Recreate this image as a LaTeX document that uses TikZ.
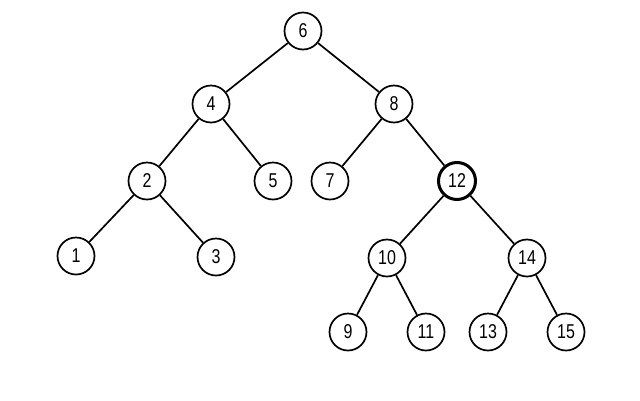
\documentclass[tikz,border=0pt]{standalone}
\usepackage{fontspec}
\setmainfont{Liberation Sans}[FakeStretch=0.8]
\begin{document}
\begin{tikzpicture}[x=1pt,y=-1pt,
  nd/.style={circle,draw,line width=1.7pt,minimum size=37pt,inner sep=0pt,font=\fontsize{20}{24}\selectfont},
  hl/.style={nd,line width=3pt},
  ed/.style={line width=1.7pt}]
\useasboundingbox (0,0) rectangle (640,400);
\node[nd] (n6) at (303,31) {6};
\node[nd] (n4) at (211,104) {4};
\node[nd] (n8) at (394,104) {8};
\node[nd] (n2) at (147,181) {2};
\node[nd] (n5) at (273,181) {5};
\node[nd] (n7) at (330,181) {7};
\node[hl] (n12) at (457,181) {12};
\node[nd] (n1) at (76,256) {1};
\node[nd] (n3) at (216,257) {3};
\node[nd] (n10) at (387,258) {10};
\node[nd] (n14) at (527,258) {14};
\node[nd] (n9) at (348,332) {9};
\node[nd] (n11) at (426,332) {11};
\node[nd] (n13) at (488,332) {13};
\node[nd] (n15) at (566,332) {15};
\draw[ed] (n6) -- (n4);
\draw[ed] (n6) -- (n8);
\draw[ed] (n4) -- (n2);
\draw[ed] (n4) -- (n5);
\draw[ed] (n8) -- (n7);
\draw[ed] (n8) -- (n12);
\draw[ed] (n2) -- (n1);
\draw[ed] (n2) -- (n3);
\draw[ed] (n12) -- (n10);
\draw[ed] (n12) -- (n14);
\draw[ed] (n10) -- (n9);
\draw[ed] (n10) -- (n11);
\draw[ed] (n14) -- (n13);
\draw[ed] (n14) -- (n15);
\end{tikzpicture}
\end{document}
